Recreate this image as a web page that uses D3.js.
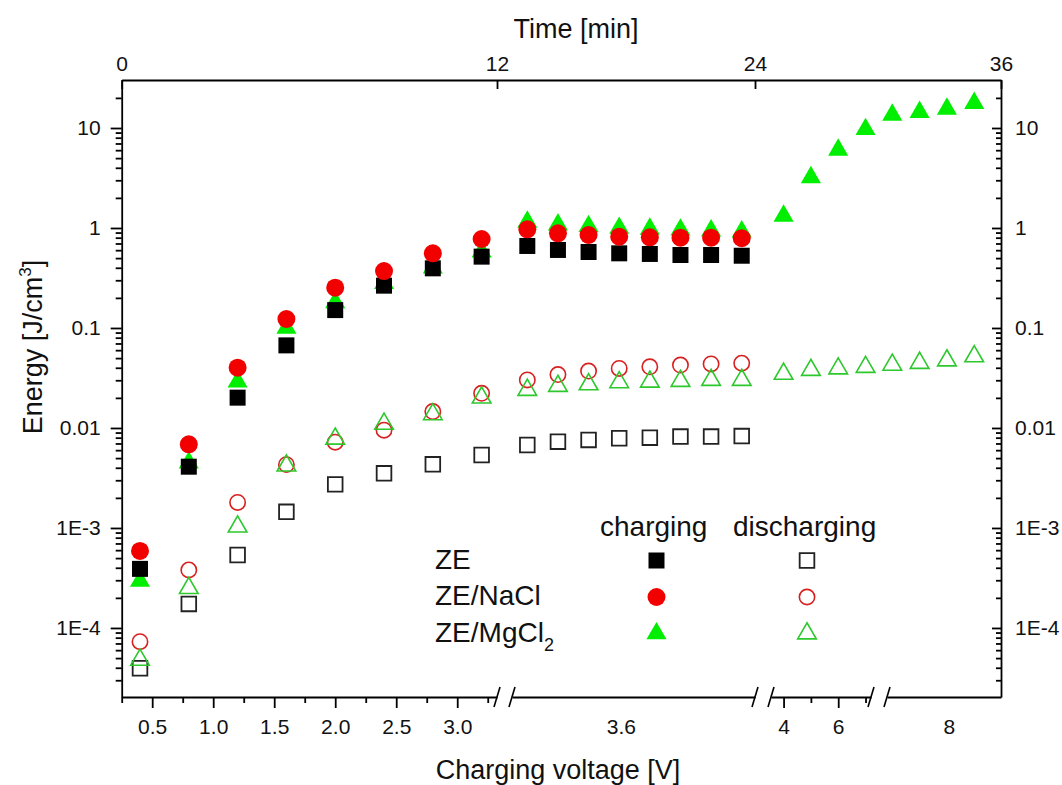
<!DOCTYPE html>
<html>
<head>
<meta charset="utf-8">
<script src="https://cdn.jsdelivr.net/npm/d3@7"></script>
<style>
  body { margin: 0; background: #fff; }
  svg { font-family: "Liberation Sans", Arial, sans-serif; }
  .axis path, .axis line { stroke: #000; stroke-width: 1.8; }
  .title { font-size: 27px; fill: #111; }
  .legend text { font-size: 28px; fill: #111; }
</style>
</head>
<body>
<svg id="chart" width="1062" height="785"></svg>
<script>
// x positions of the measurements: ramp 0.4-3.2 V, hold at 3.6 V (time in min),
// ramp 4-7 V, hold at 8 V (time in min)
var rampLowV = [0.4, 0.8, 1.2, 1.6, 2.0, 2.4, 2.8, 3.2];
var hold36Min = [12.75, 14.25, 15.75, 17.25, 18.75, 20.25, 21.75, 23.25];
var rampHighV = [4, 5, 6, 7];
var hold8Min = [30.75, 32.25, 33.75, 35.25];

// Energy [J/cm3], in the order of the positions above.
var zeCharging = [0.00039, 0.0041, 0.0201, 0.067, 0.151, 0.265, 0.395, 0.517,
                  0.661, 0.603, 0.575, 0.558, 0.55, 0.537, 0.537, 0.528];
var zeDischarging = [3.95e-5, 0.000174, 0.000537, 0.00145, 0.00273, 0.00352, 0.00433, 0.00537,
                     0.00676, 0.0073, 0.0076, 0.0079, 0.008, 0.0082, 0.0082, 0.0083];
var naclCharging = [0.00059, 0.00687, 0.0401, 0.123, 0.253, 0.371, 0.558, 0.776,
                    0.97, 0.885, 0.851, 0.819, 0.807, 0.80, 0.80, 0.79];
var naclDischarging = [7.3e-5, 0.00038, 0.0018, 0.0043, 0.0072, 0.0095, 0.0146, 0.0222,
                       0.0302, 0.0342, 0.0371, 0.0394, 0.0409, 0.0426, 0.0437, 0.0444];
var mgCharging = [0.000295, 0.0045, 0.029, 0.100, 0.18, 0.28, 0.40, 0.58,
                  1.15, 1.08, 1.04, 1.0, 0.98, 0.96, 0.94, 0.92,
                  1.32, 3.21, 6.03, 9.7,
                  13.5, 14.4, 15.5, 17.7];
var mgDischarging = [4.8e-5, 0.00025, 0.00103, 0.0042, 0.0078, 0.011, 0.0137, 0.0201,
                     0.024, 0.0263, 0.0273, 0.0286, 0.029, 0.0295, 0.0302, 0.0302,
                     0.0347, 0.038, 0.0393, 0.0407,
                     0.0428, 0.0447, 0.0473, 0.052];

var timeTicks = [0, 12, 24, 36];
var lowVTicks = [0.5, 1.0, 1.5, 2.0, 2.5, 3.0];
var lowVMinor = [0.25, 0.75, 1.25, 1.75, 2.25, 2.75, 3.25];
var highVTicks = [4, 6];
var highVMinor = [5, 7];
var holdLabels = ["3.6", "8"];
var energyTicks = [1e-4, 1e-3, 0.01, 0.1, 1, 10];
var energyLabels = ["1E-4", "1E-3", "0.01", "0.1", "1", "10"];

var svg = d3.select("#chart");
var plotTop = 80, plotBottom = 697, plotLeft = 121.7, plotRight = 1001;

// Broken x axis: four linear pieces.
var segs = [
  d3.scaleLinear().domain([0.25, 3.326]).range([plotLeft, 497]),
  d3.scaleLinear().domain([12, 23.9]).range([512, 755]),
  d3.scaleLinear().domain([3.54, 7.2]).range([771, 871]),
  d3.scaleLinear().domain([30.46, 36.72]).range([887, plotRight])
];
var holdLabelAt = [17.33, 33.86];

var xTime = d3.scaleLinear().domain(timeTicks).range([plotLeft, 497, 755, plotRight]);
var y = d3.scaleLog().domain([2.04e-5, 30.2]).range([plotBottom, plotTop]);

var positions = [].concat(
  rampLowV.map(v => ({seg: 0, v: v})),
  hold36Min.map(v => ({seg: 1, v: v})),
  rampHighV.map(v => ({seg: 2, v: v})),
  hold8Min.map(v => ({seg: 3, v: v}))
);
function xPos(i) { return segs[positions[i].seg](positions[i].v); }

var minorY = [];
[1e-5, 1e-4, 1e-3, 1e-2, 0.1, 1, 10].forEach(d => {
  for (let k = 2; k <= 9; k++) {
    let v = d * k;
    if (v >= y.domain()[0] && v <= 29) minorY.push(v);
  }
});

function styleAxis(g) {
  g.selectAll("text")
      .style("font-family", "'Liberation Sans', Arial, sans-serif")
      .style("font-size", "21px")
      .attr("fill", "#111");
}

// Left axis
svg.append("g")
    .attr("class", "axis")
    .attr("transform", "translate(" + plotLeft + ",0)")
    .call(d3.axisLeft(y).tickValues(energyTicks).tickFormat((d, i) => energyLabels[i])
      .tickSize(11).tickSizeOuter(0).tickPadding(10))
    .call(styleAxis);
svg.append("g")
    .attr("class", "axis")
    .attr("transform", "translate(" + plotLeft + ",0)")
    .call(d3.axisLeft(y).tickValues(minorY).tickFormat("").tickSize(6))
    .call(g => g.select(".domain").remove());

// Right axis, ticks pointing in
svg.append("g")
    .attr("class", "axis")
    .attr("transform", "translate(" + plotRight + ",0)")
    .call(d3.axisRight(y).tickValues(energyTicks).tickFormat((d, i) => energyLabels[i])
      .tickSize(-9).tickSizeOuter(0).tickPadding(14))
    .call(styleAxis);
svg.append("g")
    .attr("class", "axis")
    .attr("transform", "translate(" + plotRight + ",0)")
    .call(d3.axisRight(y).tickValues(minorY).tickFormat("").tickSize(-5))
    .call(g => g.select(".domain").remove());

// Top time axis
svg.append("g")
    .attr("class", "axis")
    .attr("transform", "translate(0," + plotTop + ")")
    .call(d3.axisTop(xTime).tickValues(timeTicks).tickFormat(d3.format("d"))
      .tickSize(-9).tickSizeOuter(0).tickPadding(9.5))
    .call(styleAxis);

// Bottom voltage axis, one piece per segment
var bottomAxes = [
  d3.axisBottom(segs[0]).tickValues(lowVTicks).tickFormat(d3.format(".1f")).tickSize(11),
  d3.axisBottom(segs[1]).tickValues([holdLabelAt[0]]).tickFormat(() => holdLabels[0]).tickSize(0),
  d3.axisBottom(segs[2]).tickValues(highVTicks).tickFormat(d3.format("d")).tickSize(11),
  d3.axisBottom(segs[3]).tickValues([holdLabelAt[1]]).tickFormat(() => holdLabels[1]).tickSize(0)
];
bottomAxes.forEach((ax, i) => {
  svg.append("g")
      .attr("class", "axis")
      .attr("transform", "translate(0," + plotBottom + ")")
      .call(ax.tickSizeOuter(0).tickPadding(i % 2 ? 22 : 11))
      .call(styleAxis);
});
[[segs[0], lowVMinor], [segs[2], highVMinor]].forEach(p => {
  svg.append("g")
      .attr("class", "axis")
      .attr("transform", "translate(0," + plotBottom + ")")
      .call(d3.axisBottom(p[0]).tickValues(p[1]).tickFormat("").tickSize(6))
      .call(g => g.select(".domain").remove());
});

// Break marks
var breaks = [];
for (let i = 0; i < segs.length - 1; i++) {
  breaks.push(segs[i].range()[1], segs[i + 1].range()[0]);
}
svg.append("g")
  .selectAll("line")
  .data(breaks)
  .enter().append("line")
    .attr("x1", d => d - 3).attr("y1", plotBottom + 10)
    .attr("x2", d => d + 3).attr("y2", plotBottom - 10)
    .attr("stroke", "#000")
    .attr("stroke-width", 1.6);

// Titles
svg.append("text")
    .attr("class", "title")
    .attr("x", 576).attr("y", 38)
    .attr("text-anchor", "middle")
    .text("Time [min]");
svg.append("text")
    .attr("class", "title")
    .attr("x", 558).attr("y", 779)
    .attr("text-anchor", "middle")
    .text("Charging voltage [V]");
var yTitle = svg.append("text")
    .attr("class", "title")
    .attr("transform", "translate(42,347) rotate(-90)")
    .attr("text-anchor", "middle");
yTitle.append("tspan").text("Energy [J/cm");
yTitle.append("tspan").attr("font-size", "17px").attr("dy", -11).text("3");
yTitle.append("tspan").attr("dy", 11).text("]");

// Series, drawn back to front
var series = [
  {values: mgCharging, symbol: d3.symbolTriangle, size: 175, fill: "#00ee00", stroke: "none", sw: 0},
  {values: zeCharging, symbol: d3.symbolSquare, size: 256, fill: "#000", stroke: "none", sw: 0},
  {values: naclCharging, symbol: d3.symbolCircle, size: 254, fill: "#f20000", stroke: "none", sw: 0},
  {values: zeDischarging, symbol: d3.symbolSquare, size: 215, fill: "none", stroke: "#222", sw: 1.8},
  {values: naclDischarging, symbol: d3.symbolCircle, size: 185, fill: "none", stroke: "#d82020", sw: 1.6},
  {values: mgDischarging, symbol: d3.symbolTriangle, size: 150, fill: "none", stroke: "#2cc82c", sw: 1.6}
];

series.forEach(s => {
  svg.append("g")
    .selectAll("path")
    .data(s.values)
    .enter().append("path")
      .attr("d", d3.symbol().type(s.symbol).size(s.size))
      .attr("transform", (d, i) => "translate(" + xPos(i) + "," + y(d) + ")")
      .attr("fill", s.fill)
      .attr("stroke", s.stroke)
      .attr("stroke-width", s.sw);
});

// Legend
var legend = svg.append("g").attr("class", "legend");
legend.append("text").attr("x", 600).attr("y", 536).text("charging");
legend.append("text").attr("x", 733).attr("y", 536).text("discharging");

var legendRows = [
  {label: "ZE", sub: null, c: series[1], d: series[3]},
  {label: "ZE/NaCl", sub: null, c: series[2], d: series[4]},
  {label: "ZE/MgCl", sub: "2", c: series[0], d: series[5]}
];
var rowY = [560.5, 597, 633.5];
legendRows.forEach((r, i) => {
  let t = legend.append("text").attr("x", 435).attr("y", rowY[i] + 8);
  t.append("tspan").text(r.label);
  if (r.sub) t.append("tspan").attr("font-size", "18px").attr("dy", 9).text(r.sub);
  [[r.c, 656.5], [r.d, 807]].forEach(p => {
    legend.append("path")
        .attr("d", d3.symbol().type(p[0].symbol).size(p[0].size))
        .attr("transform", "translate(" + p[1] + "," + rowY[i] + ")")
        .attr("fill", p[0].fill)
        .attr("stroke", p[0].stroke)
        .attr("stroke-width", p[0].sw);
  });
});
</script>
</body>
</html>
